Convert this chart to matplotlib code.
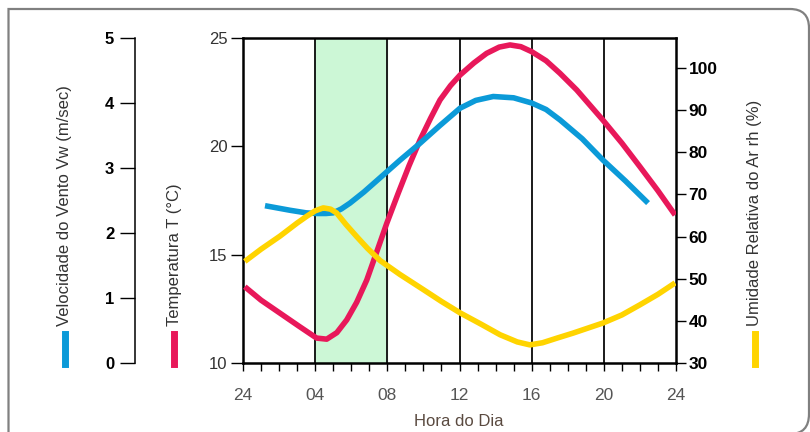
import matplotlib
matplotlib.use('Agg')
import matplotlib.pyplot as plt
from matplotlib.patches import PathPatch
from matplotlib.path import Path
from matplotlib.lines import Line2D

plt.rcParams['font.family'] = ['Liberation Sans', 'DejaVu Sans']

# temperatura (C)
hora_t = [0.1, 1.0, 2.05, 3.1, 4.08, 4.64, 5.2, 5.75, 6.3, 6.86, 7.4, 7.97, 8.6, 9.2, 9.81, 10.4, 10.92, 11.5, 12.03, 12.8, 13.5, 14.2, 14.8, 15.4, 16.0, 16.8, 17.57, 18.5, 19.96, 21.0, 22.0, 23.0, 23.95]
temp = [13.52, 12.9, 12.3, 11.7, 11.15, 11.1, 11.4, 11.99, 12.8, 13.83, 15.1, 16.45, 17.83, 19.1, 20.29, 21.3, 22.14, 22.8, 23.29, 23.85, 24.29, 24.58, 24.68, 24.6, 24.37, 23.95, 23.37, 22.6, 21.2, 20.15, 19.06, 17.95, 16.83]

# velocidade do vento (m/s)
hora_w = [1.22, 2.6, 3.5, 4.08, 4.6, 5.0, 5.45, 5.93, 6.7, 7.6, 8.7, 9.81, 10.9, 12.03, 12.9, 13.87, 15.0, 16.0, 16.8, 17.57, 18.8, 19.96, 21.2, 22.45]
vento = [2.42, 2.35, 2.31, 2.30, 2.30, 2.31, 2.37, 2.46, 2.63, 2.85, 3.12, 3.38, 3.65, 3.92, 4.04, 4.10, 4.08, 4.0, 3.9, 3.74, 3.45, 3.12, 2.8, 2.46]

# umidade relativa (%)
hora_h = [0.1, 1.0, 2.05, 3.0, 3.53, 4.0, 4.45, 4.85, 5.19, 5.7, 6.3, 6.9, 7.6, 8.7, 10.0, 11.0, 12.03, 13.2, 14.25, 15.2, 15.9, 16.6, 17.4, 18.3, 19.96, 21.0, 22.0, 23.0, 23.95]
umid = [54.1, 57.0, 60.1, 63.2, 64.8, 66.1, 66.8, 66.5, 65.6, 62.9, 60.0, 57.2, 54.3, 51.0, 47.4, 44.6, 41.9, 39.2, 36.7, 35.0, 34.3, 34.8, 35.9, 37.1, 39.5, 41.4, 43.8, 46.3, 49.0]

xticks = [0, 4, 8, 12, 16, 20, 24]
xlabels = ['24', '04', '08', '12', '16', '20', '24']

RED = '#e8185a'
BLUE = '#0b9ad8'
YEL = '#ffd400'

W, H = 810, 432
fig = plt.figure(figsize=(8.1, 4.32), dpi=100)

def fx(x):
    return x / W

def fy(y):
    return 1 - y / H

# moldura (cantos direitos arredondados)
verts = [(8.5, 440), (8.5, 9), (790, 9), (809, 9), (809, 28), (809, 414), (809, 434), (790, 434)]
codes = [Path.MOVETO, Path.LINETO, Path.LINETO, Path.CURVE3, Path.CURVE3, Path.LINETO, Path.CURVE3, Path.CURVE3]
path = Path([(fx(a), fy(b)) for a, b in verts], codes)
fig.patches.append(PathPatch(path, transform=fig.transFigure, fc='none', ec='#808080', lw=1.6))

ax = fig.add_axes([fx(243), fy(363), fx(676) - fx(243), fy(38) - fy(363)])
ax.axvspan(4, 8, color='#ccf7d6', zorder=0)
for v in [4, 8, 12, 16, 20]:
    ax.axvline(v, color='#1a1a1a', lw=1.4, zorder=1)
ax.plot(hora_t, temp, color=RED, lw=4, solid_capstyle='butt', solid_joinstyle='round', zorder=3)
ax.set_xlim(0, 24)
ax.set_ylim(10, 25)
ax.set_yticks([10, 15, 20, 25])
ax.set_xticks(xticks)
ax.set_xticklabels(xlabels, color='#555555', fontsize=12.5)
ax.set_xticks(range(0, 25), minor=True)
ax.tick_params(axis='x', which='both', direction='out', length=6, width=1, pad=12)
ax.tick_params(axis='y', direction='out', length=9, width=1, labelsize=12, pad=2, labelcolor='#333333')
for s in ax.spines.values():
    s.set_linewidth(1.8)
fig.text(fx(459), fy(421), 'Hora do Dia', ha='center', va='center', fontsize=12, color='#5a4a40')

# umidade (eixo direito)
axh = ax.twinx()
axh.plot(hora_h, umid, color=YEL, lw=4, solid_capstyle='butt', solid_joinstyle='round', zorder=2)
axh.set_ylim(30, 107.1)
axh.set_yticks(range(30, 101, 10))
axh.tick_params(axis='y', direction='out', length=7, width=1, labelsize=12.5, pad=2)
for lab in axh.get_yticklabels():
    lab.set_fontweight('bold')
for s in axh.spines.values():
    s.set_visible(False)

# vento (eixo separado a esquerda)
axw = ax.twinx()
axw.plot(hora_w, vento, color=BLUE, lw=4, solid_capstyle='butt', solid_joinstyle='round', zorder=2)
axw.set_ylim(0, 5)
axw.set_yticks(range(0, 6))
axw.yaxis.set_ticks_position('left')
for k in ['top', 'right', 'bottom']:
    axw.spines[k].set_visible(False)
axw.spines['left'].set_position(('axes', (135 - 243) / 433))
axw.spines['left'].set_linewidth(1.1)
axw.tick_params(axis='y', direction='out', length=11, width=1, labelsize=12, pad=4)
for lab in axw.get_yticklabels():
    lab.set_fontweight('bold')
axw.set_zorder(ax.get_zorder() + 1)
axw.patch.set_visible(False)
axh.set_zorder(ax.get_zorder() + 2)
axh.patch.set_visible(False)

# rotulos dos eixos com amostras de cor
def rotulo(x, texto, cor):
    fig.text(fx(x), fy(326), texto, rotation=90, ha='center', va='bottom', fontsize=12, color='#333333')
    fig.add_artist(Line2D([fx(x), fx(x)], [fy(364), fy(334)], transform=fig.transFigure, color=cor, lw=5))

rotulo(65, 'Velocidade do Vento Vw (m/sec)', BLUE)
rotulo(174, 'Temperatura T (\u00b0C)', RED)
rotulo(755, 'Umidade Relativa do Ar rh (%)', YEL)

fig.savefig('out.png', dpi=100)
